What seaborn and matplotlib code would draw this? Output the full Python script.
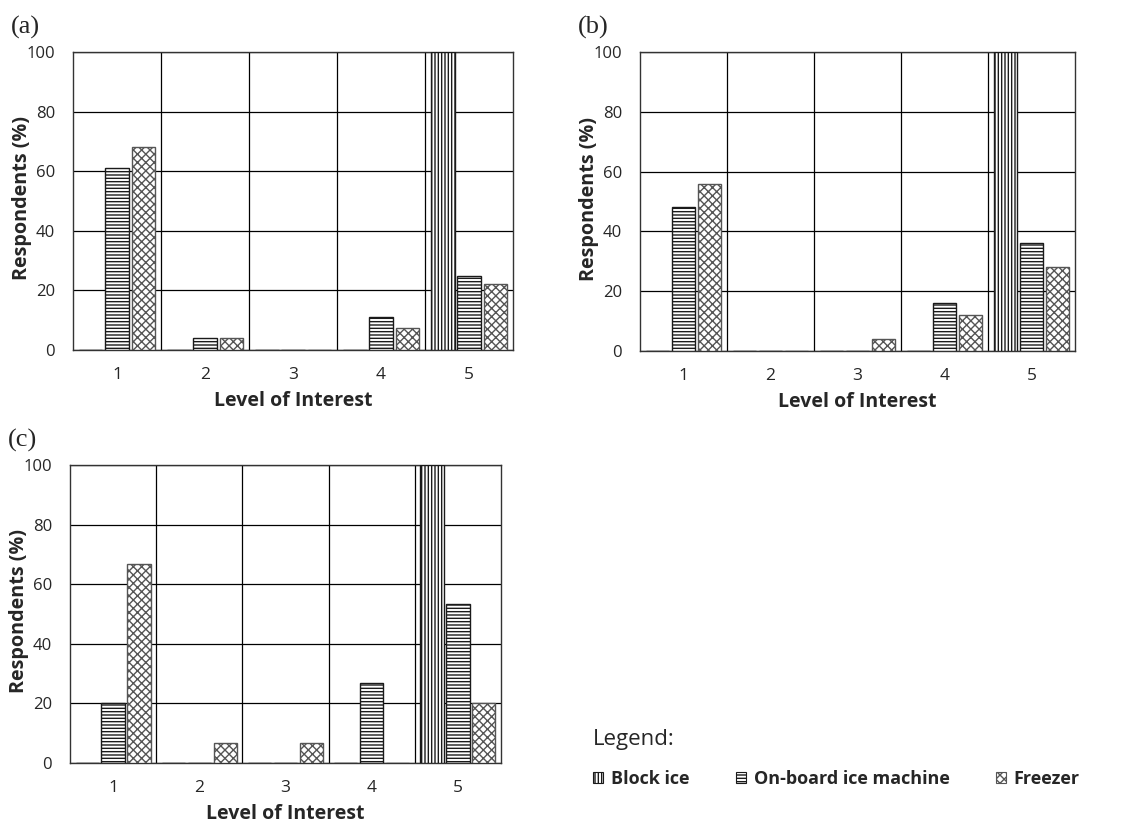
import matplotlib
matplotlib.use("Agg")
import matplotlib.pyplot as plt
import matplotlib.patches as mpatches
import seaborn as sns
import pandas as pd

# ---------------- data ----------------
levels = ["1", "2", "3", "4", "5"]
series = ["Block ice", "On-board ice machine", "Freezer"]

block_a = [0, 0, 0, 0, 100]
onboard_a = [61, 4, 0, 11, 25]
freezer_a = [68, 4, 0, 7.5, 22]

block_b = [0, 0, 0, 0, 100]
onboard_b = [48, 0, 0, 16, 36]
freezer_b = [56, 0, 4, 12, 28]

block_c = [0, 0, 0, 0, 100]
onboard_c = [20, 0, 0, 26.7, 53.3]
freezer_c = [66.7, 6.7, 6.7, 0, 20]

panel_labels = ["(a)", "(b)", "(c)"]
y_ticks = [0, 20, 40, 60, 80, 100]
x_label = "Level of Interest"
y_label = "Respondents (%)"
legend_title = "Legend:"

# ---------------- style ----------------
sns.set_style("white")
FONT = ["Open Sans", "DejaVu Sans"]
plt.rcParams["font.family"] = FONT
plt.rcParams["hatch.linewidth"] = 1.0

hatches = {"Block ice": "|||||", "On-board ice machine": "-----", "Freezer": "xxxx"}
edges = {"Block ice": "#1a1a1a", "On-board ice machine": "#1a1a1a", "Freezer": "#555555"}


def long_df(block, onboard, freezer):
    rows = []
    for s, vals in zip(series, [block, onboard, freezer]):
        for lv, v in zip(levels, vals):
            rows.append({"Level": lv, "Series": s, "Value": v})
    return pd.DataFrame(rows)


panels = [
    (long_df(block_a, onboard_a, freezer_a), [0.0636, 0.5742, 0.3833, 0.3625]),
    (long_df(block_b, onboard_b, freezer_b), [0.5575, 0.5730, 0.3789, 0.3637]),
    (long_df(block_c, onboard_c, freezer_c), [0.0610, 0.0718, 0.3754, 0.3625]),
]

fig = plt.figure(figsize=(11.48, 8.22), dpi=100)

for (df, rect), plab in zip(panels, panel_labels):
    ax = fig.add_axes(rect)
    sns.barplot(data=df, x="Level", y="Value", hue="Series", order=levels,
                hue_order=series, palette={s: "white" for s in series},
                saturation=1, width=0.9, gap=0.1, linewidth=1.0,
                edgecolor="#222222", legend=False, ax=ax, zorder=3)
    for cont, s in zip(ax.containers, series):
        for bar in cont:
            bar.set_hatch(hatches[s])
            bar.set_edgecolor(edges[s])
    ax.set_xlim(-0.5, len(levels) - 0.5)
    ax.set_ylim(0, 100)
    ax.set_yticks(y_ticks)
    ax.set_xticks([i + 0.5 for i in range(len(levels) - 1)], minor=True)
    ax.set_axisbelow(True)
    ax.grid(True, axis="y", which="major", color="black", linewidth=0.9)
    ax.grid(True, axis="x", which="minor", color="black", linewidth=0.9)
    ax.grid(False, axis="x", which="major")
    ax.tick_params(axis="both", which="both", length=0)
    ax.tick_params(axis="y", labelsize=12, pad=13)
    ax.tick_params(axis="x", labelsize=12.5, pad=12)
    for sp in ax.spines.values():
        sp.set_visible(True)
        sp.set_color("#333333")
        sp.set_linewidth(1.0)
    ax.set_xlabel(x_label, fontsize=14, fontweight="bold")
    ax.set_ylabel(y_label, fontsize=14.2, fontweight="bold")
    bbox = ax.get_position()
    w_px = bbox.width * 1148
    h_px = bbox.height * 822
    ax.yaxis.set_label_coords(-41 / w_px, 0.51)
    ax.xaxis.set_label_coords(0.5, -41 / h_px)
    ax.text(-62 / w_px, 1.0 + 13 / h_px, plab, transform=ax.transAxes, fontsize=19,
            family=["Liberation Serif", "DejaVu Serif"], ha="left", va="bottom")

handles = [mpatches.Patch(facecolor="white", edgecolor=edges[s], hatch=hatches[s],
                          linewidth=0.8, label=s) for s in series]
leg = fig.legend(handles=handles, loc="lower left", bbox_to_anchor=(0.5024, 0.022),
                 ncol=3, frameon=False, title=legend_title, alignment="left",
                 handlelength=0.55, handleheight=0.6, handletextpad=0.45,
                 columnspacing=2.55, labelspacing=1.1,
                 prop={"size": 13, "weight": "bold"},
                 title_fontproperties={"size": 16})

fig.savefig("out.png", dpi=100)
